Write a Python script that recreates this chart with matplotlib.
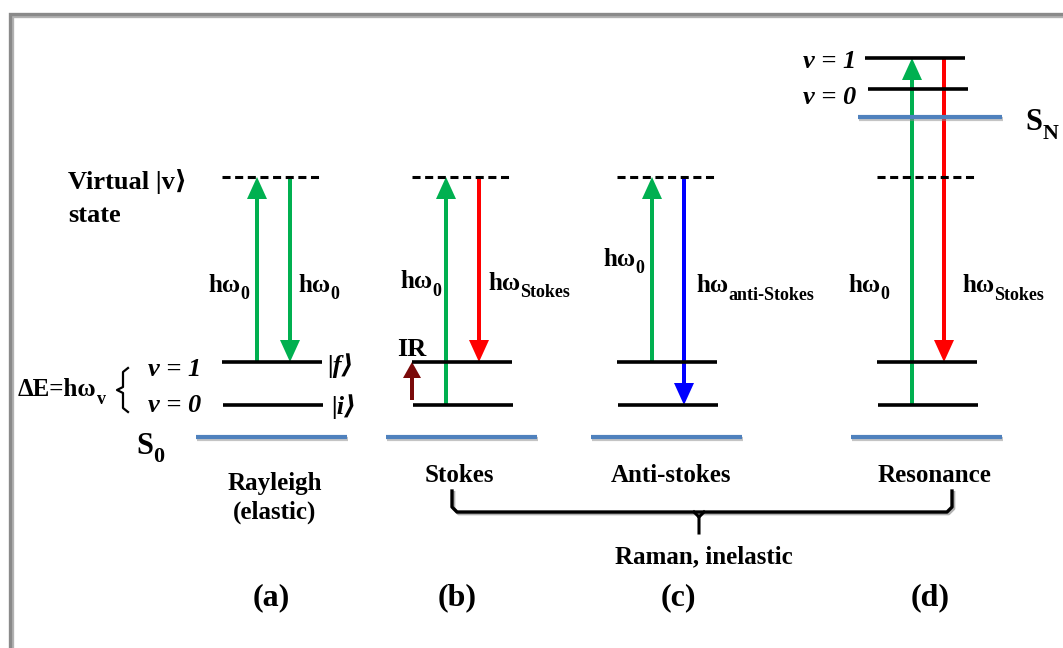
import matplotlib
matplotlib.use("Agg")
import matplotlib.pyplot as plt
import matplotlib.patheffects as pe
from matplotlib.patches import FancyArrow

plt.rcParams["font.family"] = ["Liberation Serif", "DejaVu Serif", "DejaVu Sans"]
plt.rcParams["lines.scale_dashes"] = False

# Niveles de energía (coordenadas del dibujo, eje y hacia abajo)
e_virtual = 177
e_v1 = 362
e_v0 = 405
e_ground = 437
e_sn = 117
e_sn_v0 = 89
e_sn_v1 = 58

# Centros de cada panel: (a) Rayleigh, (b) Stokes, (c) Anti-stokes, (d) Resonancia
panel_x = [272, 462, 667, 927]
panel_tags = ["(a)", "(b)", "(c)", "(d)"]
panel_tag_x = [271, 457, 678, 930]
panel_names = ["Rayleigh\n(elastic)", "Stokes", "Anti-stokes", "Resonance"]
panel_name_x = [275, 459, 671, 934]

GREEN = "#00B050"
RED = "#FF0000"
BLUE = "#0000FF"
DARKRED = "#7A0A0A"
LEVEL_BLUE = "#4F81BD"

# Transiciones: (x, nivel inicial, nivel final, color)
transitions = [
    (257, e_v1, e_virtual, GREEN),
    (290, e_virtual, e_v1, GREEN),
    (446, e_v0, e_virtual, GREEN),
    (479, e_virtual, e_v1, RED),
    (652, e_v1, e_virtual, GREEN),
    (684, e_virtual, e_v0, BLUE),
    (912, e_v0, e_sn_v1, GREEN),
    (944, e_sn_v1, e_v1, RED),
]

fig = plt.figure(figsize=(10.63, 6.48), dpi=100)
ax = fig.add_axes([0, 0, 1, 1])
ax.set_xlim(0, 1063)
ax.set_ylim(648, 0)
ax.axis("off")

shadow = [pe.SimpleLineShadow(offset=(1.2, -1.2), shadow_color="gray", alpha=0.6), pe.Normal()]
soft_shadow = [pe.SimpleLineShadow(offset=(0.6, -1.3), shadow_color="#8a8a8a", alpha=0.5), pe.Normal()]

# Marco
ax.plot([10, 10, 1070], [660, 14, 14], color="#8a8a8a", lw=2.4,
        solid_joinstyle="miter", path_effects=shadow)


def level(x0, x1, y, color="black", lw=2.6, dashed=False, fx=None):
    ln, = ax.plot([x0, x1], [y, y], color=color, lw=lw, solid_capstyle="butt")
    if dashed:
        ln.set_dashes((5.8, 3.3))
    if fx:
        ln.set_path_effects(fx)
    return ln


def label(x, y, text, sub=None, size=18, ha="left", style="normal", subsize=None):
    t = ax.text(x, y, text, fontsize=size, ha=ha, va="center",
                fontweight="bold", fontstyle=style)
    if sub:
        ax.annotate(sub, xy=(1, 0.22), xycoords=t, xytext=(0.3, -2),
                    textcoords="offset points", fontsize=subsize or size * 0.72,
                    fontweight="bold", va="center", ha="left")
    return t


# Niveles de cada panel
for cx in panel_x:
    level(cx - 50, cx + 50, e_virtual, dashed=True, lw=2.2)
    level(cx - 50, cx + 50, e_v1)
    level(cx - 49, cx + 51, e_v0)
    level(cx - 76, cx + 75, e_ground, color=LEVEL_BLUE, lw=3, fx=soft_shadow)

# Estado electrónico excitado S_N
level(865, 965, e_sn_v1)
level(868, 968, e_sn_v0)
level(858, 1002, e_sn, color=LEVEL_BLUE, lw=3, fx=soft_shadow)

# Flechas de transición
for x, y0, y1, col in transitions:
    ax.add_patch(FancyArrow(x, y0, 0, y1 - y0, width=4, head_width=20,
                            head_length=22, length_includes_head=True,
                            color=col, lw=0))
# Excitación IR
ax.add_patch(FancyArrow(412, 400, 0, e_v1 - 400, width=4, head_width=18,
                        head_length=16, length_includes_head=True,
                        color=DARKRED, lw=0))

# Textos del panel (a)
label(68, 182, "Virtual |v⟩", size=19)
label(68, 215, "state", size=19)
label(18, 390, "ΔE=hω", sub="v", size=18)
ax.plot([128, 123, 123, 117, 123, 123, 128],
        [368, 372, 387, 390, 393, 408, 412], color="black", lw=1.6,
        solid_joinstyle="round")
label(148, 369, "ν = 1", size=19, style="italic")
label(148, 405, "ν = 0", size=19, style="italic")
label(327, 366, "|f⟩", size=19, style="italic")
label(331, 407, "|i⟩", size=19, style="italic")
label(136, 446, "S", sub="0", size=22)
label(208, 285, "hω", sub="0", size=18)
label(298, 285, "hω", sub="0", size=18)

# Panel (b)
label(397, 349, "IR", size=19)
label(400, 282, "hω", sub="0", size=18)
label(488, 283, "hω", sub="Stokes", size=18, subsize=13)

# Panel (c)
label(603, 259, "hω", sub="0", size=18)
label(696, 286, "hω", sub="anti-Stokes", size=18, subsize=13)

# Panel (d)
label(848, 285, "hω", sub="0", size=18)
label(962, 286, "hω", sub="Stokes", size=18, subsize=13)
label(856, 61, "ν = 1", size=19, style="italic", ha="right")
label(856, 97, "ν = 0", size=19, style="italic", ha="right")
label(1025, 123, "S", sub="N", size=22)

# Nombres y etiquetas de los paneles
for x, name in zip(panel_name_x, panel_names):
    y = 498 if "\n" in name else 476
    ax.text(x, y, name, fontsize=18, ha="center", va="center",
            fontweight="bold", linespacing=1.35)
for x, tag in zip(panel_tag_x, panel_tags):
    ax.text(x, 598, tag, fontsize=23, ha="center", va="center", fontweight="bold")

# Llave que agrupa los procesos Raman
ax.plot([452, 452, 457, 947, 952, 952], [491, 507, 512, 512, 507, 491],
        color="black", lw=2.4, solid_joinstyle="round", path_effects=shadow)
ax.plot([694, 699, 699], [512, 517, 533], color="black", lw=2.2,
        solid_joinstyle="round")
ax.plot([704, 699], [512, 517], color="black", lw=2.2)
ax.text(704, 557, "Raman, inelastic", fontsize=18, ha="center", va="center",
        fontweight="bold")

fig.savefig("out.png", dpi=100, facecolor="white")
